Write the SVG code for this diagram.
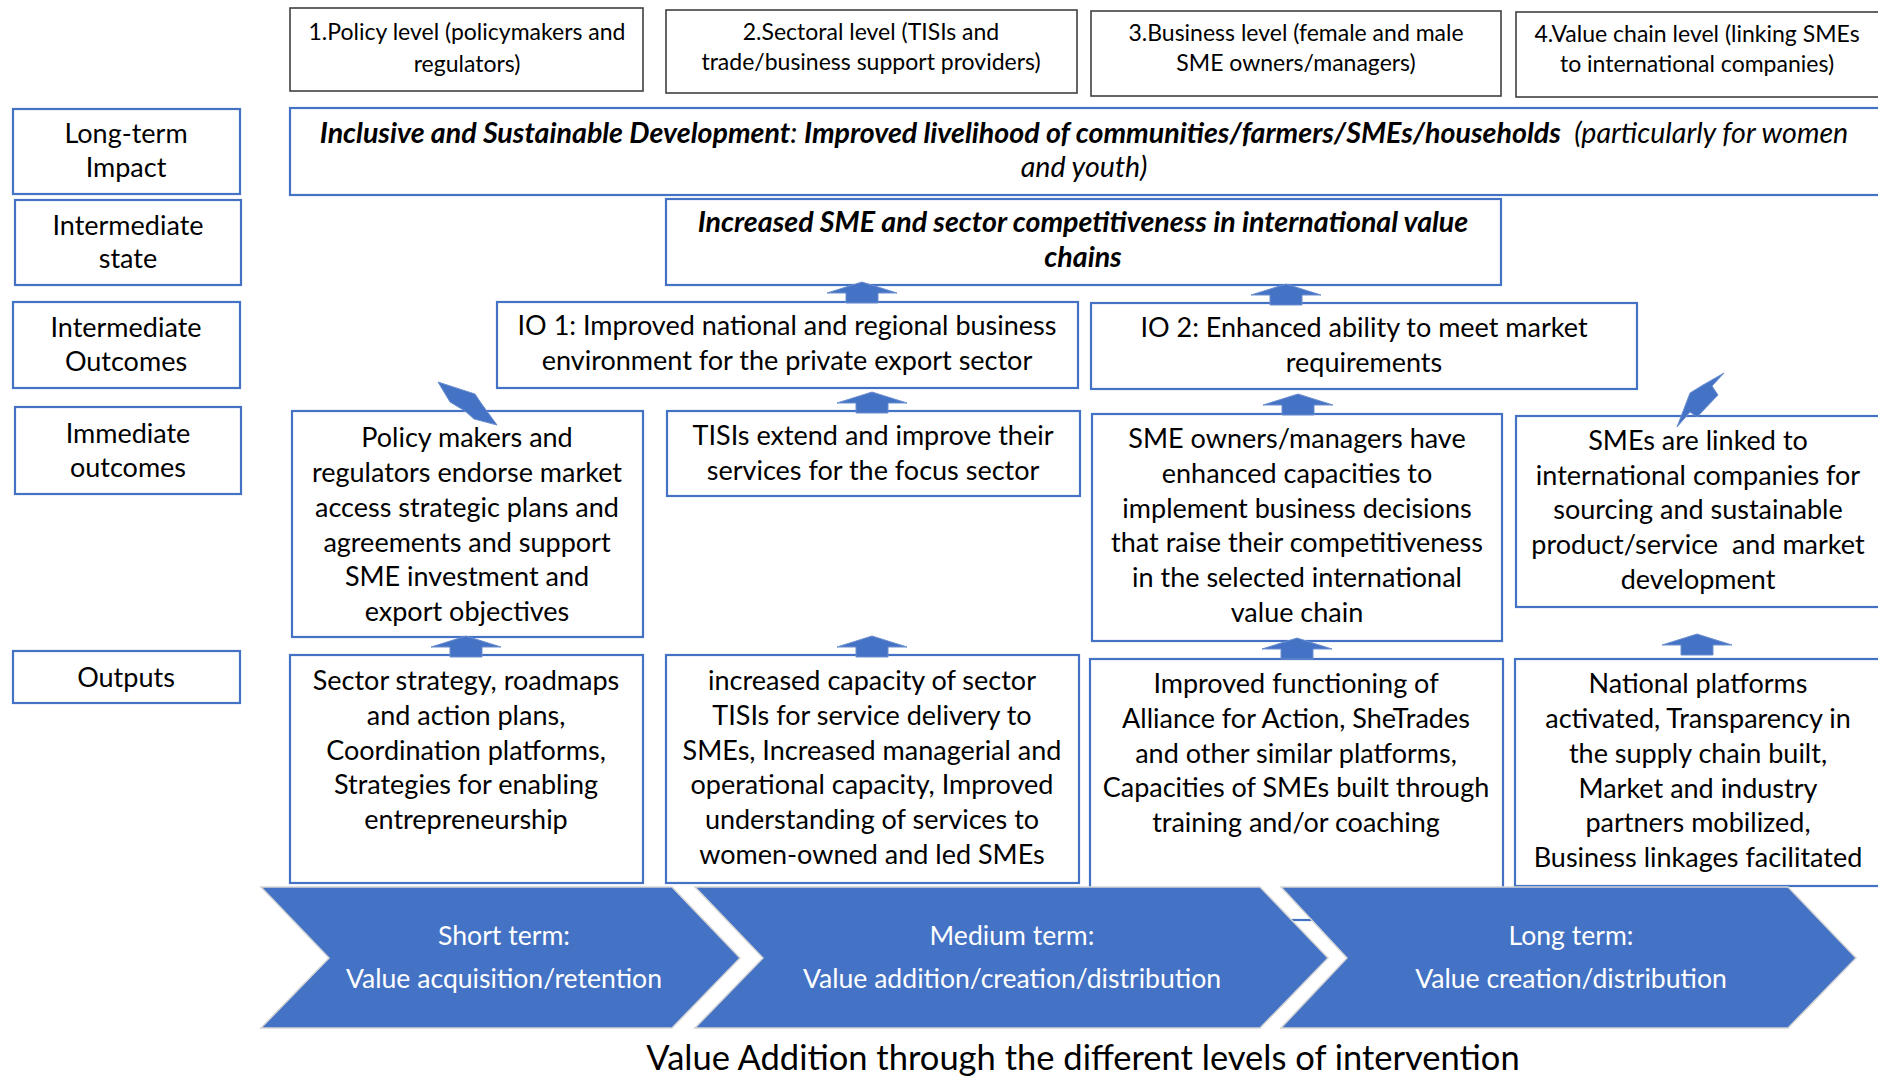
<svg xmlns="http://www.w3.org/2000/svg" width="1878" height="1078" viewBox="0 0 1878 1078">
<defs>
<style>
text{font-family:Lato,"Liberation Sans",sans-serif;fill:#000;text-anchor:middle}
.b{font-size:27px}
.k{font-size:28.6px}
.h{font-size:23px}
.lb rect{fill:#fff;stroke:#4472C4;stroke-width:2.2}
.hd rect{fill:#fff;stroke:#404040;stroke-width:1.6}
.nd rect{fill:#fff;stroke:#4472C4;stroke-width:2.2}
.ar{fill:#4472C4;stroke:#6d8fd0;stroke-width:1}
.ch polygon{fill:#4472C4;stroke:#d5d5d5;stroke-width:1.5}
.ch text{fill:#fff;font-size:26.6px}
.bi{font-weight:bold;font-style:italic}
.it{font-style:italic}
</style>
<path id="up" d="M0,0 L35,11 L16,11 L16,21 L-16,21 L-16,11 L-35,11 Z"/>
</defs>
<rect width="1878" height="1078" fill="#fff"/>

<g id="header1" class="hd"><rect x="290" y="8" width="353" height="83"/><text class="h" x="467" y="40">1.Policy level (policymakers and</text><text class="h" x="467" y="72">regulators)</text></g>
<g id="header2" class="hd"><rect x="666" y="10" width="411" height="83"/><text class="h" x="871" y="40">2.Sectoral level (TISIs and</text><text class="h" x="871" y="70">trade/business support providers)</text></g>
<g id="header3" class="hd"><rect x="1091" y="11" width="410" height="85"/><text class="h" x="1296" y="41">3.Business level (female and male</text><text class="h" x="1296" y="71">SME owners/managers)</text></g>
<g id="header4" class="hd"><rect x="1516" y="12" width="380" height="85"/><text class="h" x="1697" y="42">4.Value chain level (linking SMEs</text><text class="h" x="1697" y="72">to international companies)</text></g>

<g id="label-impact" class="lb"><rect x="13" y="109" width="227" height="85"/><text class="b" x="126" y="143">Long-term</text><text class="b" x="126" y="177">Impact</text></g>
<g id="label-state" class="lb"><rect x="15" y="200" width="226" height="85"/><text class="b" x="128" y="235">Intermediate</text><text class="b" x="128" y="268">state</text></g>
<g id="label-io" class="lb"><rect x="13" y="302" width="227" height="86"/><text class="b" x="126" y="337">Intermediate</text><text class="b" x="126" y="371">Outcomes</text></g>
<g id="label-imm" class="lb"><rect x="15" y="407" width="226" height="87"/><text class="b" x="128" y="443">Immediate</text><text class="b" x="128" y="477">outcomes</text></g>
<g id="label-out" class="lb"><rect x="13" y="651" width="227" height="52"/><text class="b" x="126" y="687">Outputs</text></g>

<g id="impact" class="nd"><rect x="290" y="108" width="1600" height="87"/>
<text class="k" x="1084" y="143"><tspan class="bi">Inclusive and Sustainable Development</tspan><tspan class="it">: </tspan><tspan class="bi">Improved livelihood of communities/farmers/SMEs/households</tspan><tspan class="it" xml:space="preserve">  (particularly for women</tspan></text>
<text class="k it" x="1084" y="177">and youth)</text></g>

<g id="state" class="nd"><rect x="666" y="199" width="835" height="86"/><text class="k bi" x="1083" y="232">Increased SME and sector competitiveness in international value</text><text class="k bi" x="1083" y="267">chains</text></g>

<g id="io1" class="nd"><rect x="497" y="302" width="581" height="86"/><text class="b" x="787" y="335">IO 1: Improved national and regional business</text><text class="b" x="787" y="370">environment for the private export sector</text></g>
<g id="io2" class="nd"><rect x="1091" y="303" width="546" height="86"/><text class="b" x="1364" y="337">IO 2: Enhanced ability to meet market</text><text class="b" x="1364" y="372">requirements</text></g>

<g id="imm1" class="nd"><rect x="292" y="411" width="351" height="226"/>
<text class="b" x="467" y="447">Policy makers and</text><text class="b" x="467" y="482">regulators endorse market</text><text class="b" x="467" y="517">access strategic plans and</text><text class="b" x="467" y="552">agreements and support</text><text class="b" x="467" y="586">SME investment and</text><text class="b" x="467" y="621">export objectives</text></g>
<g id="imm2" class="nd"><rect x="667" y="411" width="413" height="85"/>
<text class="b" x="873" y="445">TISIs extend and improve their</text><text class="b" x="873" y="480">services for the focus sector</text></g>
<g id="imm3" class="nd"><rect x="1092" y="414" width="410" height="227"/>
<text class="b" x="1297" y="448">SME owners/managers have</text><text class="b" x="1297" y="483">enhanced capacities to</text><text class="b" x="1297" y="518">implement business decisions</text><text class="b" x="1297" y="552">that raise their competitiveness</text><text class="b" x="1297" y="587">in the selected international</text><text class="b" x="1297" y="622">value chain</text></g>
<g id="imm4" class="nd"><rect x="1516" y="416" width="380" height="191"/>
<text class="b" x="1698" y="450">SMEs are linked to</text><text class="b" x="1698" y="485">international companies for</text><text class="b" x="1698" y="519">sourcing and sustainable</text><text class="b" x="1698" y="554" xml:space="preserve">product/service  and market</text><text class="b" x="1698" y="589">development</text></g>

<g id="out1" class="nd"><rect x="290" y="655" width="353" height="228"/>
<text class="b" x="466" y="690">Sector strategy, roadmaps</text><text class="b" x="466" y="725">and action plans,</text><text class="b" x="466" y="760">Coordination platforms,</text><text class="b" x="466" y="794">Strategies for enabling</text><text class="b" x="466" y="829">entrepreneurship</text></g>
<g id="out2" class="nd"><rect x="666" y="655" width="413" height="228"/>
<text class="b" x="872" y="690">increased capacity of sector</text><text class="b" x="872" y="725">TISIs for service delivery to</text><text class="b" x="872" y="760">SMEs, Increased managerial and</text><text class="b" x="872" y="794">operational capacity, Improved</text><text class="b" x="872" y="829">understanding of services to</text><text class="b" x="872" y="864">women-owned and led SMEs</text></g>
<g id="out3" class="nd"><rect x="1090" y="659" width="413" height="261"/>
<text class="b" x="1296" y="693">Improved functioning of</text><text class="b" x="1296" y="728">Alliance for Action, SheTrades</text><text class="b" x="1296" y="763">and other similar platforms,</text><text class="b" x="1296" y="797">Capacities of SMEs built through</text><text class="b" x="1296" y="832">training and/or coaching</text></g>
<g id="out4" class="nd"><rect x="1515" y="659" width="380" height="227"/>
<text class="b" x="1698" y="693">National platforms</text><text class="b" x="1698" y="728">activated, Transparency in</text><text class="b" x="1698" y="763">the supply chain built,</text><text class="b" x="1698" y="798">Market and industry</text><text class="b" x="1698" y="832">partners mobilized,</text><text class="b" x="1698" y="867">Business linkages facilitated</text></g>

<g id="connectors">
<use href="#up" class="ar" x="862" y="282"/>
<use href="#up" class="ar" x="1286" y="284"/>
<use href="#up" class="ar" x="872" y="392"/>
<use href="#up" class="ar" x="1298" y="394"/>
<use href="#up" class="ar" x="466" y="636"/>
<use href="#up" class="ar" x="872" y="636"/>
<use href="#up" class="ar" x="1297" y="638"/>
<use href="#up" class="ar" x="1697" y="634"/>
<polygon class="ar" points="438,382 475,394 481,403 497,425 474,419 465,411 450,402"/>
<polygon class="ar" points="1724,373 1712,386 1718,395 1697,417 1690,412 1677,427 1690,393 1703,385"/>
</g>

<g id="chevrons" class="ch">
<g id="chev1"><polygon points="261,887 672,887 740,958 672,1028 261,1028 329,958"/><text x="504" y="945">Short term:</text><text x="504" y="988">Value acquisition/retention</text></g>
<g id="chev2"><polygon points="695,887 1260,887 1328,958 1260,1028 695,1028 763,958"/><text x="1012" y="945">Medium term:</text><text x="1012" y="988">Value addition/creation/distribution</text></g>
<g id="chev3"><polygon points="1281,887 1788,887 1856,958 1788,1028 1281,1028 1347,958"/><text x="1571" y="945">Long term:</text><text x="1571" y="988">Value creation/distribution</text></g>
</g>

<text id="title" x="1083" y="1070" style="font-size:34.5px">Value Addition through the different levels of intervention</text>
</svg>
